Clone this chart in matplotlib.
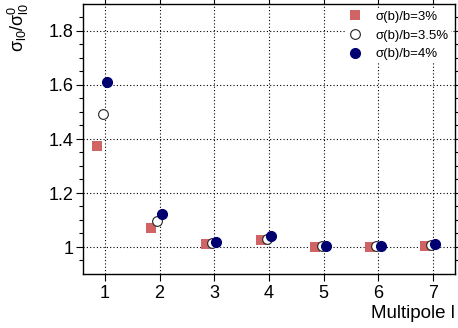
import matplotlib
matplotlib.use("Agg")
import matplotlib.pyplot as plt
import numpy as np

plt.rcParams['font.family'] = ['Liberation Sans', 'DejaVu Sans']
plt.rcParams['mathtext.fontset'] = 'custom'
plt.rcParams['mathtext.rm'] = 'Liberation Sans'
plt.rcParams['mathtext.it'] = 'Liberation Sans'
plt.rcParams['mathtext.sf'] = 'Liberation Sans'

multipoles = [1, 2, 3, 4, 5, 6, 7]
ratio_3 = [1.375, 1.069, 1.010, 1.026, 1.001, 1.001, 1.005]
ratio_35 = [1.491, 1.096, 1.014, 1.030, 1.004, 1.004, 1.007]
ratio_4 = [1.612, 1.122, 1.017, 1.042, 1.004, 1.004, 1.010]
labels = ['σ(b)/b=3%', 'σ(b)/b=3.5%', 'σ(b)/b=4%']

fig = plt.figure(figsize=(4.58, 3.28), dpi=100)
ax = fig.add_axes([83/458, 1-274/328, 372/458, 270/328])

x = np.array(multipoles, dtype=float)
ax.plot(x - 0.15, ratio_3, 's', color='#d06464', markersize=7.2, markeredgewidth=0,
        label=labels[0], zorder=3)
ax.plot(x - 0.04, ratio_35, 'o', markerfacecolor='white', markeredgecolor='#222222',
        markeredgewidth=0.8, markersize=7, label=labels[1], zorder=4)
ax.plot(x + 0.04, ratio_4, 'o', color='#000070', markersize=7, label=labels[2], zorder=5)

ax.set_xlim(0.6, 7.4)
ax.set_ylim(0.9, 1.9)
ax.set_xticks(multipoles)
ax.set_yticks([1.0, 1.2, 1.4, 1.6, 1.8])
ax.set_yticklabels(['1', '1.2', '1.4', '1.6', '1.8'])
ax.set_yticks(np.arange(0.95, 1.9, 0.05), minor=True)
ax.tick_params(axis='both', which='major', direction='out', length=5, width=0.8,
               labelsize=13, top=True, right=True, pad=2)
ax.tick_params(axis='y', which='minor', direction='out', length=3, width=0.8,
               right=True)
ax.tick_params(axis='x', which='major', pad=3)
ax.grid(True, which='major', color='black', linestyle=(0, (1, 2)), linewidth=0.8)
for s in ax.spines.values():
    s.set_linewidth(1.0)

ax.set_xlabel('Multipole l', fontsize=13.5, loc='right', labelpad=2)
fig.text(18/458, 1-3/328, r'$\mathrm{\sigma_{l0}/\sigma^{0}_{l0}}$', rotation=90,
         ha='center', va='top', fontsize=13)

leg = ax.legend(loc='upper right', bbox_to_anchor=(1.0, 1.0), frameon=True,
                fontsize=9.5, handlelength=1.0, handletextpad=1.0,
                labelspacing=0.5, borderaxespad=0.3, borderpad=0.2)
leg.get_frame().set_facecolor('white')
leg.get_frame().set_edgecolor('none')
leg.get_frame().set_alpha(1)

fig.savefig('out.png', dpi=100)
